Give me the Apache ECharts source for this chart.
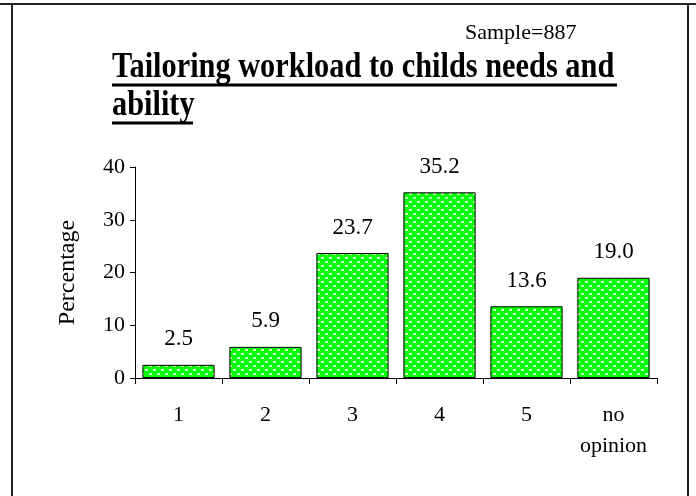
<!DOCTYPE html>
<html>
<head>
<meta charset="utf-8">
<script src="https://cdn.jsdelivr.net/npm/echarts@6/dist/echarts.min.js"></script>
<style>html,body{margin:0;padding:0;background:#fff;}#c{width:696px;height:496px;}</style>
</head>
<body>
<div id="c"></div>
<script>
const categories = ['1', '2', '3', '4', '5', 'no\nopinion'];
const values = [2.5, 5.9, 23.7, 35.2, 13.6, 19.0];
const yTicks = [0, 10, 20, 30, 40];
const titleText = 'Tailoring workload to childs needs and\nability';
const sampleText = 'Sample=887';
const yName = 'Percentage';

function makePattern() {
  const c = document.createElement('canvas');
  c.width = 8; c.height = 8;
  const g = c.getContext('2d');
  g.fillStyle = '#00ff00';
  g.fillRect(0, 0, 8, 8);
  g.fillStyle = '#c8ffc8';
  g.fillRect(1, 1, 3, 2);
  g.fillRect(5, 5, 3, 2);
  return c;
}

const FONT = 'Liberation Serif, Times New Roman, serif';
const chart = echarts.init(document.getElementById('c'), null, {renderer: 'canvas'});
chart.setOption({
  animation: false,
  backgroundColor: '#fff',
  grid: {left: 135, right: 39, top: 167, bottom: 118, containLabel: false},
  xAxis: {
    type: 'category',
    data: categories,
    axisLine: {lineStyle: {color: '#000', width: 1}},
    axisTick: {show: true, interval: 0, length: 6, lineStyle: {color: '#000'}},
    axisLabel: {interval: 0, fontFamily: FONT, fontSize: 22, color: '#000', margin: 22, lineHeight: 31}
  },
  yAxis: {
    type: 'value',
    min: yTicks[0], max: yTicks[yTicks.length - 1], interval: 10,
    name: yName,
    nameLocation: 'middle',
    nameGap: 55,
    nameTextStyle: {fontFamily: FONT, fontSize: 24, color: '#000'},
    axisLine: {show: true, lineStyle: {color: '#000', width: 1}},
    axisTick: {show: true, length: 5, lineStyle: {color: '#000'}},
    splitLine: {show: false},
    axisLabel: {fontFamily: FONT, fontSize: 22, color: '#000', margin: 10}
  },
  series: [{
    type: 'bar',
    data: values,
    barCategoryGap: '17%',
    itemStyle: {color: {image: makePattern(), repeat: 'repeat'}, borderColor: '#000', borderWidth: 1},
    label: {
      show: true, position: 'top', distance: 14,
      fontFamily: FONT, fontSize: 23, color: '#000',
      formatter: p => p.value.toFixed(1)
    }
  }],
  graphic: [
    {type: 'line', shape: {x1: 0, y1: 4, x2: 696, y2: 4}, style: {stroke: '#222', lineWidth: 2}},
    {type: 'line', shape: {x1: 12, y1: 4, x2: 12, y2: 496}, style: {stroke: '#222', lineWidth: 2}},
    {type: 'line', shape: {x1: 688, y1: 4, x2: 688, y2: 496}, style: {stroke: '#222', lineWidth: 2}},
    {type: 'text', x: 112, y: 49, scaleX: 0.843, scaleY: 1,
     style: {text: titleText, fontFamily: FONT, fontSize: 36, fontWeight: 'bold', fill: '#000',
             lineHeight: 38, verticalAlign: 'top', align: 'left'}},
    {type: 'text', x: 465, y: 33,
     style: {text: sampleText, fontFamily: FONT, fontSize: 22, fill: '#000',
             verticalAlign: 'middle', align: 'left'}},
    {type: 'line', shape: {x1: 112, y1: 85, x2: 617, y2: 85}, style: {stroke: '#000', lineWidth: 3}},
    {type: 'line', shape: {x1: 112, y1: 123, x2: 193, y2: 123}, style: {stroke: '#000', lineWidth: 3}}
  ]
});
</script>
</body>
</html>
